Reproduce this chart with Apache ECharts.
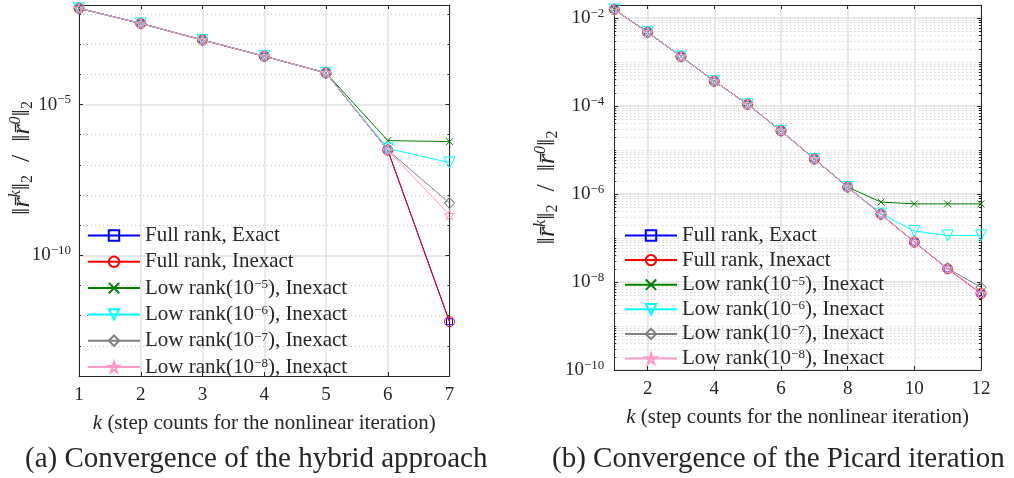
<!DOCTYPE html>
<html>
<head>
<meta charset="utf-8">
<script src="https://cdn.jsdelivr.net/npm/echarts@6/dist/echarts.min.js"></script>
<style>html,body{margin:0;padding:0;background:#fff;}#c{width:1014px;height:478px;}</style>
</head>
<body>
<div id="c"></div>
<script>
// ---------- data ----------
var seriesNames = ['Full rank, Exact', 'Full rank, Inexact', 'Low rank(10^-5), Inexact',
  'Low rank(10^-6), Inexact', 'Low rank(10^-7), Inexact', 'Low rank(10^-8), Inexact'];

var hybridK = [1, 2, 3, 4, 5, 6, 7];
var hybridFullExact   = [1.55e-2, 4.9e-3, 1.38e-3, 4.0e-4, 1.12e-4, 3.1e-7, 6.3e-13];
var hybridFullInexact = [1.55e-2, 4.9e-3, 1.38e-3, 4.0e-4, 1.12e-4, 3.1e-7, 6.3e-13];
var hybridLow5        = [1.55e-2, 4.9e-3, 1.38e-3, 4.0e-4, 1.12e-4, 6.4e-7, 5.9e-7];
var hybridLow6        = [1.55e-2, 4.9e-3, 1.38e-3, 4.0e-4, 1.12e-4, 3.5e-7, 1.2e-7];
var hybridLow7        = [1.55e-2, 4.9e-3, 1.38e-3, 4.0e-4, 1.12e-4, 3.1e-7, 5.4e-9];
var hybridLow8        = [1.55e-2, 4.9e-3, 1.38e-3, 4.0e-4, 1.12e-4, 3.1e-7, 2.2e-9];

var picardK = [1, 2, 3, 4, 5, 6, 7, 8, 9, 10, 11, 12];
var picardFullExact   = [1.58e-2, 4.8e-3, 1.35e-3, 3.7e-4, 1.1e-4, 2.75e-5, 6.3e-6, 1.45e-6, 3.5e-7, 8.1e-8, 2.0e-8, 5.5e-9];
var picardFullInexact = [1.58e-2, 4.8e-3, 1.35e-3, 3.7e-4, 1.1e-4, 2.75e-5, 6.3e-6, 1.45e-6, 3.5e-7, 8.1e-8, 2.0e-8, 5.5e-9];
var picardLow5        = [1.58e-2, 4.8e-3, 1.35e-3, 3.7e-4, 1.1e-4, 2.75e-5, 6.3e-6, 1.45e-6, 6.6e-7, 6.0e-7, 6.0e-7, 6.0e-7];
var picardLow6        = [1.58e-2, 4.8e-3, 1.35e-3, 3.7e-4, 1.1e-4, 2.75e-5, 6.3e-6, 1.45e-6, 3.6e-7, 1.45e-7, 1.15e-7, 1.15e-7];
var picardLow7        = [1.58e-2, 4.8e-3, 1.35e-3, 3.7e-4, 1.1e-4, 2.75e-5, 6.3e-6, 1.45e-6, 3.5e-7, 8.1e-8, 2.05e-8, 7.6e-9];
var picardLow8        = [1.58e-2, 4.8e-3, 1.35e-3, 3.7e-4, 1.1e-4, 2.75e-5, 6.3e-6, 1.45e-6, 3.5e-7, 8.1e-8, 2.0e-8, 5.5e-9];

var hybridXTicks = [1, 2, 3, 4, 5, 6, 7];
var picardXTicks = [2, 4, 6, 8, 10, 12];
var hybridYTicks = [1e-10, 1e-5];
var picardYTicks = [1e-10, 1e-8, 1e-6, 1e-4, 1e-2];

var xTitle = '{i|k} (step counts for the nonlinear iteration)';
var yTitle = '{n|‖}{i|r̄}{sup|k}{n|‖}{sub|2}{n|  /  ‖}{i|r̄}{sup|0}{n|‖}{sub|2}';
var captionA = '(a) Convergence of the hybrid approach';
var captionB = '(b) Convergence of the Picard iteration';

// ---------- styling ----------
var FONT = '"Liberation Serif", "DejaVu Serif", "Noto Serif", serif';
var AX = '#262626';
var colors = ['#0000ff', '#ff0000', '#008000', '#00ffff', '#808080', '#ff99cc'];
function starPath() {
  var pts = [];
  for (var i = 0; i < 10; i++) {
    var r = (i % 2) ? 0.382 : 1;
    var a = -Math.PI / 2 + i * Math.PI / 5;
    pts.push((50 + 50 * r * Math.cos(a)).toFixed(2) + ',' + (50 + 50 * r * Math.sin(a)).toFixed(2));
  }
  return 'path://M' + pts.join('L') + 'Z';
}
var symbols = ['rect', 'circle', 'path://M0,0L10,10M10,0L0,10', 'triangle', 'diamond', starPath()];
var symbolSizes = [6, 10, 7, 11, [10, 11], 10];
var symbolRotates = [0, 0, 0, 180, 0, 0];

function minorList(lo, hi, majors, full) {
  var out = [];
  for (var e = lo; e <= hi; e++) {
    var ms = full ? [1, 2, 3, 4, 5, 6, 7, 8, 9] : [1];
    ms.forEach(function (m) {
      var v = m * Math.pow(10, e);
      var isMajor = majors.some(function (t) { return Math.abs(t - v) / t < 1e-9; });
      if (!isMajor && v <= 0.0199) out.push(v);
    });
  }
  return out;
}

var richTick = {
  b: { fontFamily: FONT, fontSize: 19, color: AX, lineHeight: 22 },
  sup: { fontFamily: FONT, fontSize: 13, color: AX, lineHeight: 13, verticalAlign: 'top' }
};
var richTitle = {
  n: { fontFamily: FONT, fontSize: 26, color: AX, lineHeight: 28 },
  i: { fontFamily: FONT, fontSize: 26, fontStyle: 'italic', color: AX, lineHeight: 28 },
  sup: { fontFamily: FONT, fontSize: 16, fontStyle: 'italic', color: AX, lineHeight: 16, verticalAlign: 'top' },
  sub: { fontFamily: FONT, fontSize: 16, color: AX, lineHeight: 16, verticalAlign: 'bottom' }
};
function powLabel(v) {
  var e = Math.round(Math.log(v) / Math.LN10);
  return '{b|10}{sup|' + (e < 0 ? '−' + (-e) : e) + '}';
}

function xAxes(gi, min, max, ticks) {
  var base = { type: 'value', gridIndex: gi, min: min, max: max };
  return [
    Object.assign({}, base, {
      position: 'bottom',
      name: xTitle, nameLocation: 'middle', nameGap: 37,
      nameTextStyle: { fontFamily: FONT, fontSize: 21, color: AX, rich: {
        i: { fontFamily: FONT, fontSize: 21, fontStyle: 'italic', color: AX } } },
      axisLine: { show: true, lineStyle: { color: AX, width: 1 } },
      axisTick: { show: true, inside: true, length: 4, customValues: ticks, lineStyle: { color: AX } },
      axisLabel: { customValues: ticks, margin: 10, fontFamily: FONT, fontSize: 19, color: AX },
      splitLine: { show: true, lineStyle: { color: '#e2e2e2', width: 1.5 } }
    }),
    Object.assign({}, base, {
      position: 'top',
      axisLine: { show: true, lineStyle: { color: AX, width: 1 } },
      axisTick: { show: true, inside: true, length: 4, customValues: ticks, lineStyle: { color: AX } },
      axisLabel: { show: false },
      splitLine: { show: false }
    })
  ];
}

function yAxes(gi, min, max, majors, minors, withName, nameGap, labelMargin) {
  var base = { type: 'log', logBase: 10, gridIndex: gi, min: min, max: max };
  var main = Object.assign({}, base, {
    position: 'left',
    axisLine: { show: true, lineStyle: { color: AX, width: 1 } },
    axisTick: { show: true, inside: true, length: 4, customValues: majors, lineStyle: { color: AX } },
    axisLabel: { customValues: majors, formatter: powLabel, margin: labelMargin, rich: richTick },
    splitLine: { show: true, lineStyle: { color: '#e2e2e2', width: 1.5 } },
    minorTick: { show: false }, minorSplitLine: { show: false }
  });
  if (withName) {
    main.name = yTitle; main.nameLocation = 'middle'; main.nameGap = nameGap;
    main.nameTextStyle = { fontFamily: FONT, fontSize: 26, color: AX, rich: richTitle };
  }
  return [
    main,
    Object.assign({}, base, {
      position: 'left',
      axisLine: { show: false },
      axisTick: { show: true, inside: true, length: 2, customValues: minors, lineStyle: { color: AX } },
      axisLabel: { show: false },
      splitLine: { show: true, lineStyle: { color: '#c4c4c4', width: 1, type: [1, 3] } }
    }),
    Object.assign({}, base, {
      position: 'right',
      axisLine: { show: true, lineStyle: { color: AX, width: 1 } },
      axisTick: { show: true, inside: true, length: 4, customValues: majors, lineStyle: { color: AX } },
      axisLabel: { show: false },
      splitLine: { show: false }
    }),
    Object.assign({}, base, {
      position: 'right',
      axisLine: { show: false },
      axisTick: { show: true, inside: true, length: 2, customValues: minors, lineStyle: { color: AX } },
      axisLabel: { show: false },
      splitLine: { show: false }
    })
  ];
}

function makeSeries(ks, arrays, xi, yi) {
  return arrays.map(function (arr, s) {
    return {
      type: 'line', name: seriesNames[s], xAxisIndex: xi, yAxisIndex: yi,
      data: ks.map(function (k, j) { return [k, arr[j]]; }),
      symbol: symbols[s], symbolSize: symbolSizes[s], symbolRotate: symbolRotates[s],
      showAllSymbol: true,
      lineStyle: { color: colors[s], width: 1 },
      itemStyle: { color: 'rgba(255,255,255,0)', borderColor: colors[s], borderWidth: 1 },
      emphasis: { disabled: true },
      z: 2 + s
    };
  });
}

function legendFmt(name) {
  return name.replace(/10\^(-?\d+)/, function (m, e) { return '10{sup|' + e.replace('-', '−') + '}'; });
}
function legendCfg(left, top, gap) {
  return {
    data: seriesNames, orient: 'vertical', left: left, top: top, padding: 0,
    itemWidth: 52, itemHeight: 13, itemGap: gap, selectedMode: false,
    formatter: legendFmt,
    textStyle: { fontFamily: FONT, fontSize: 21, color: AX, lineHeight: 20,
      rich: { sup: { fontFamily: FONT, fontSize: 13, color: AX, lineHeight: 13, verticalAlign: 'top' } } }
  };
}

var hybridMinors = minorList(-14, -2, hybridYTicks, false);
var picardMinors = minorList(-10, -2, picardYTicks, true);

var option = {
  animation: false,
  backgroundColor: '#ffffff',
  textStyle: { fontFamily: FONT },
  title: [
    { text: captionA, left: 25, top: 445, padding: 0,
      textStyle: { fontFamily: FONT, fontSize: 29, fontWeight: 'normal', color: AX } },
    { text: captionB, left: 552, top: 445, padding: 0,
      textStyle: { fontFamily: FONT, fontSize: 29, fontWeight: 'normal', color: AX } }
  ],
  graphic: [
    { type: 'text', x: 22, y: 158, rotation: Math.PI / 2, silent: true,
      style: { text: yTitle, align: 'center', verticalAlign: 'middle',
        fontFamily: FONT, fontSize: 26, fill: AX, rich: richTitle } }
  ],
  grid: [
    { left: 79, top: 5, width: 370.5, height: 371, containLabel: false },
    { left: 614.3, top: 5, width: 366.7, height: 365, containLabel: false }
  ],
  legend: [legendCfg(87, 225, 5.3), legendCfg(624, 225, 3.6)],
  xAxis: xAxes(0, 1, 7, hybridXTicks).concat(xAxes(1, 1, 12, picardXTicks)),
  yAxis: yAxes(0, 1e-14, 0.02, hybridYTicks, hybridMinors, false, 0, 8)
    .concat(yAxes(1, 1e-10, 0.02, picardYTicks, picardMinors, true, 53, 10)),
  series: makeSeries(hybridK, [hybridFullExact, hybridFullInexact, hybridLow5, hybridLow6, hybridLow7, hybridLow8], 0, 0)
    .concat(makeSeries(picardK, [picardFullExact, picardFullInexact, picardLow5, picardLow6, picardLow7, picardLow8], 2, 4))
};

var chart = echarts.init(document.getElementById('c'), null, { renderer: 'canvas' });
chart.setOption(option);
</script>
</body>
</html>
